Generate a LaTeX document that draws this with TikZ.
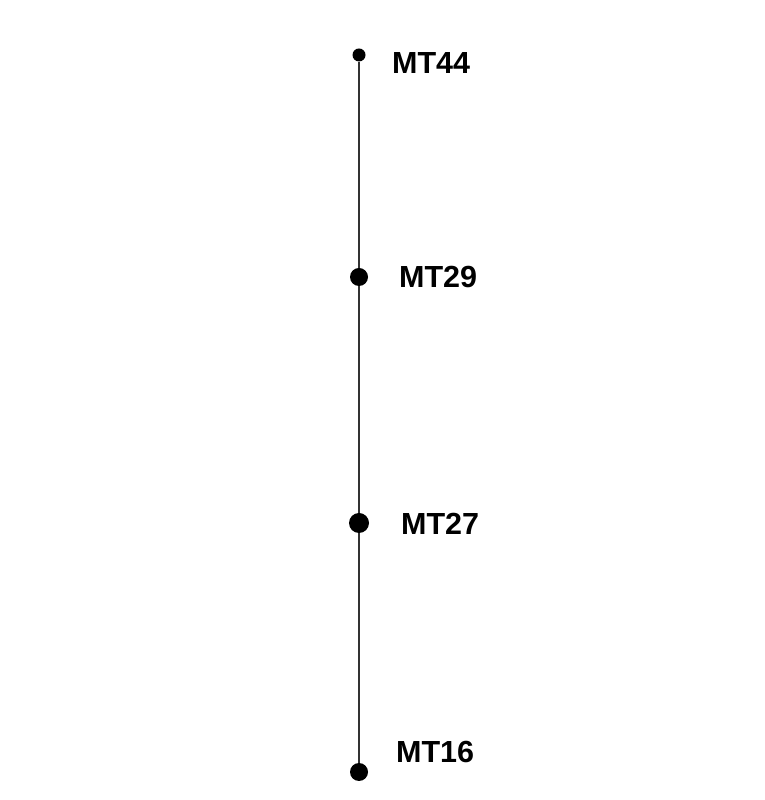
\documentclass[tikz,border=0pt]{standalone}
\usepackage{fontspec}
\setmainfont{Liberation Sans}
\begin{document}
\begin{tikzpicture}[x=1pt,y=1pt]
\useasboundingbox (0,0) rectangle (765,800);
\tikzset{locus/.style={circle, fill, inner sep=0pt},
  lab/.style={anchor=west, inner sep=0pt, font=\fontsize{30.5}{33}\selectfont\bfseries}}
\node[locus, minimum size=13pt] (mt44) at (359,745){};
\node[locus, minimum size=18pt] (mt29) at (359,523){};
\node[locus, minimum size=20pt] (mt27) at (359,277){};
\node[locus, minimum size=18pt] (mt16) at (359,28){};
\draw[line width=1.6pt, black!80](mt44) -- (mt29);
\draw[line width=1.6pt, black!80](mt29) -- (mt27);
\draw[line width=1.6pt, black!80](mt27) -- (mt16);
\node[lab] (l44) at (392,737){MT44};
\node[lab] (l29) at (399,523){MT29};
\node[lab] (l27) at (401,276.5){MT27};
\node[lab] (l16) at (396,48){MT16};
\end{tikzpicture}
\end{document}
